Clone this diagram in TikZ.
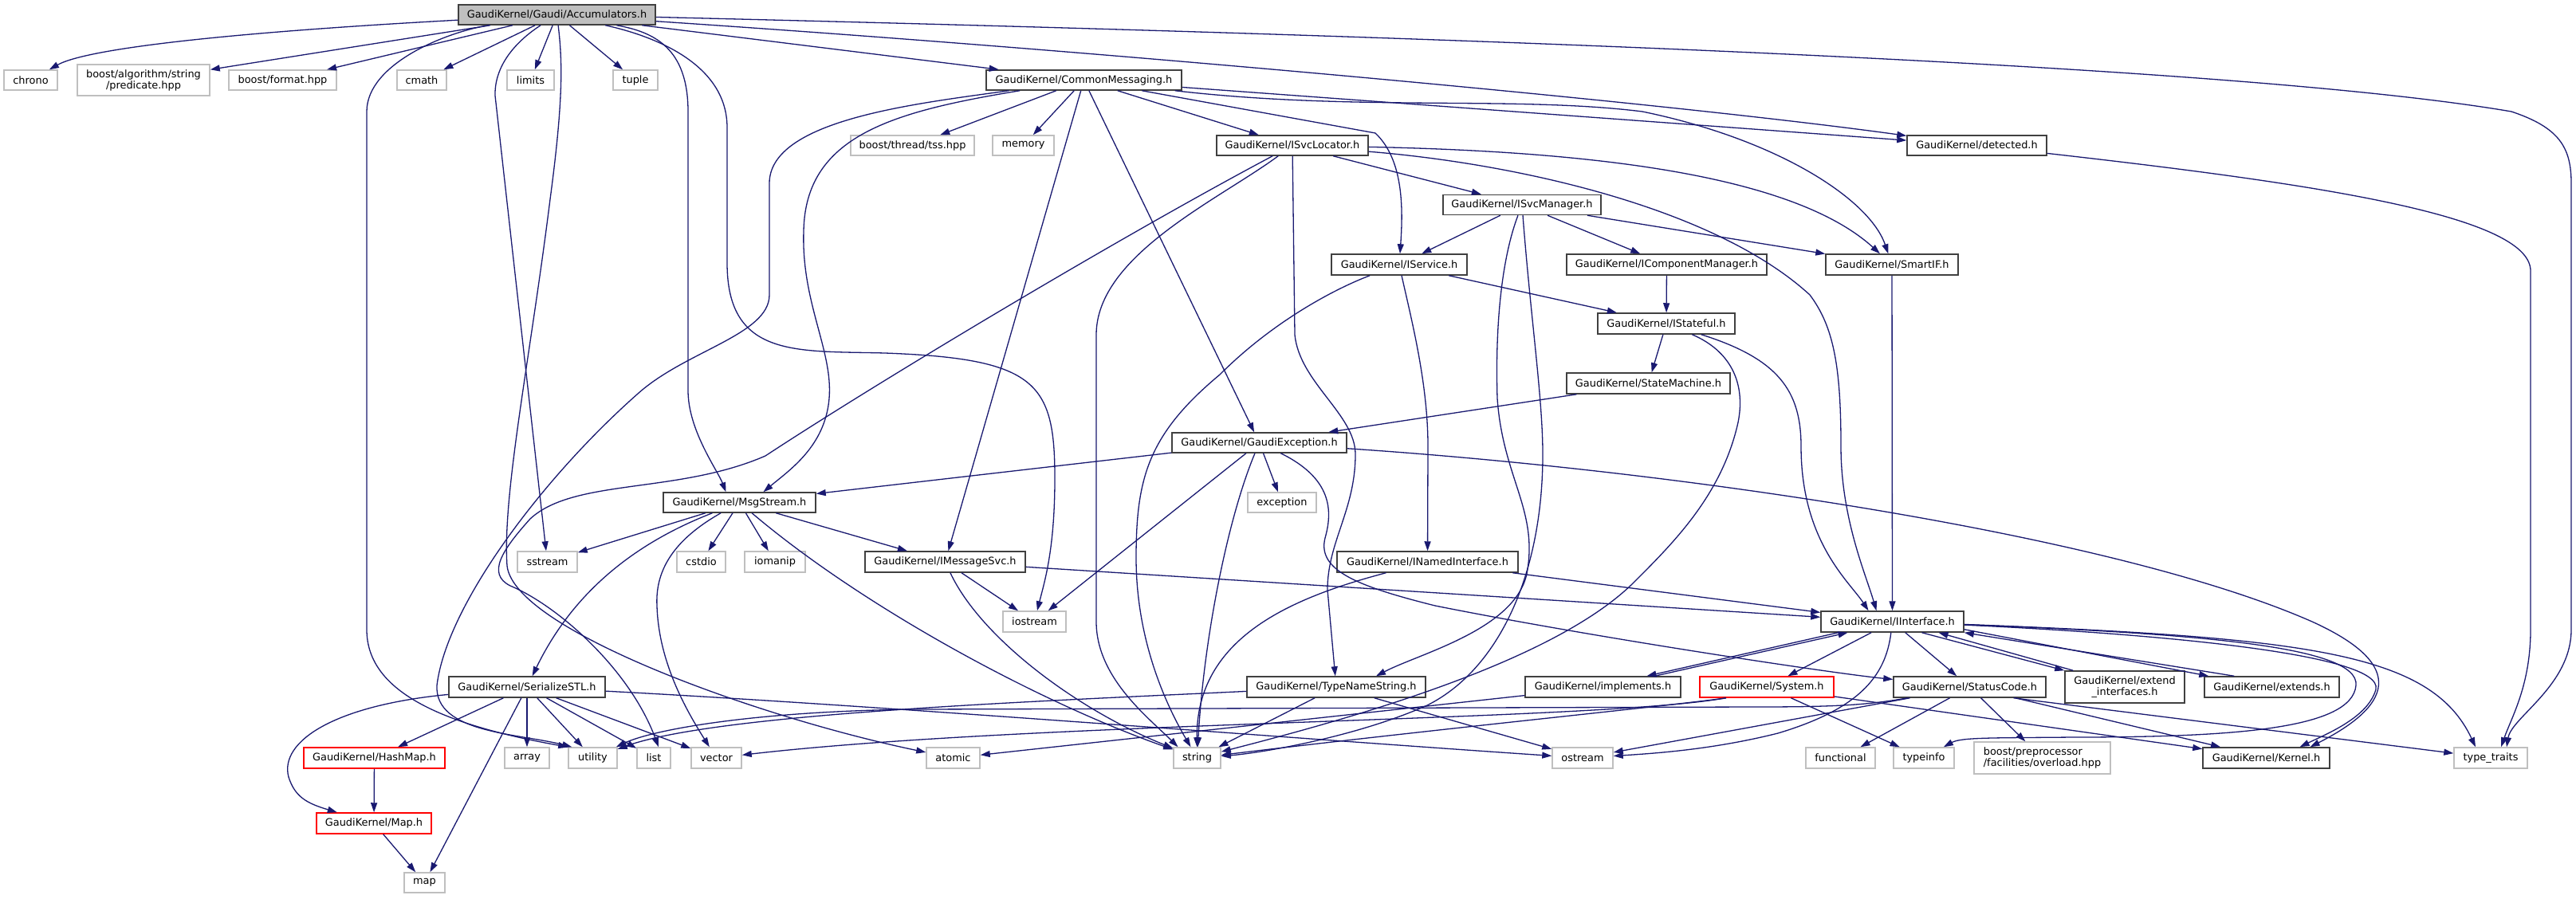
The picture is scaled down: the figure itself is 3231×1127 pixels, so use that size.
\documentclass[tikz,border=0pt]{standalone}
\usepackage{fontspec}
\setmainfont{DejaVu Sans}
\usetikzlibrary{arrows.meta}
\definecolor{edgec}{HTML}{191970}
\definecolor{extc}{HTML}{BFBFBF}
\definecolor{rootc}{HTML}{BFBFBF}
\definecolor{gkc}{HTML}{404040}
\newcommand\mknode[6]{\node[#1,minimum width=#4pt,minimum height=#5pt] (#2) at (#3) {#6};}
\tikzset{
  base/.style={rectangle, inner sep=0pt, line width=1.5pt, fill=white, font=\fontsize{12.9}{14}\selectfont, text=black},
  gk/.style={base, draw=gkc},
  ext/.style={base, draw=extc},
  redn/.style={base, draw=red},
  root/.style={base, draw=gkc, fill=rootc},
  edg/.style={draw=edgec, line width=1.3pt, -{Triangle[length=12pt,width=8pt]}},
}
\begin{document}
\begin{tikzpicture}[x=1pt,y=-1pt]
\fill[white] (0,0) rectangle (3231,1127);
\path[use as bounding box] (0,0) rectangle (3231,1127);
% nodes
\mknode{root}{acc}{698.5,18.5}{247}{25}{GaudiKernel/Gaudi/Accumulators.h}
\mknode{ext}{chrono}{38.5,100.5}{67}{25}{chrono}
\mknode{ext,align=center}{pred}{180,100.5}{166}{39}{boost/algorithm/string\\/predicate.hpp}
\mknode{ext}{fmt}{354.5,100.5}{135}{25}{boost/format.hpp}
\mknode{ext}{cmath}{529,100.5}{62}{25}{cmath}
\mknode{ext}{limits}{665.5,100.5}{59}{25}{limits}
\mknode{ext}{tuple}{797,100.5}{56}{25}{tuple}
\mknode{gk}{cm}{1359.5,100.5}{245}{25}{GaudiKernel/CommonMessaging.h}
\mknode{ext}{tss}{1144.5,182.5}{155}{25}{boost/thread/tss.hpp}
\mknode{ext}{memory}{1283.5,182.5}{77}{25}{memory}
\mknode{gk}{isl}{1621,182.5}{190}{25}{GaudiKernel/ISvcLocator.h}
\mknode{gk}{det}{2479.5,182.5}{175}{25}{GaudiKernel/detected.h}
\mknode{gk}{ism}{1909,257}{198}{25}{GaudiKernel/ISvcManager.h}
\mknode{gk}{isvc}{1755,332}{170}{26}{GaudiKernel/IService.h}
\mknode{gk}{icm}{2090.5,332}{251}{26}{GaudiKernel/IComponentManager.h}
\mknode{gk}{sif}{2373,332}{166}{26}{GaudiKernel/SmartIF.h}
\mknode{gk}{ist}{2090,406}{172}{26}{GaudiKernel/IStateful.h}
\mknode{gk}{sm}{2067.5,481}{205}{26}{GaudiKernel/StateMachine.h}
\mknode{gk}{gex}{1579.5,555.5}{219}{25}{GaudiKernel/GaudiException.h}
\mknode{ext}{exc}{1608,630.5}{86}{25}{exception}
\mknode{gk}{msg}{927.5,630.5}{191}{25}{GaudiKernel/MsgStream.h}
\mknode{ext}{sstream}{686.5,705}{75}{26}{sstream}
\mknode{ext}{cstdio}{879.5,705}{61}{26}{cstdio}
\mknode{ext}{iomanip}{972,705}{76}{26}{iomanip}
\mknode{gk}{ims}{1185.5,705}{201}{26}{GaudiKernel/IMessageSvc.h}
\mknode{gk}{ini}{1790.5,705}{227}{26}{GaudiKernel/INamedInterface.h}
\mknode{ext}{iostream}{1297.5,780}{79}{26}{iostream}
\mknode{gk}{ii}{2373.5,780}{179}{26}{GaudiKernel/IInterface.h}
\mknode{gk}{ser}{661,862}{196}{26}{GaudiKernel/SerializeSTL.h}
\mknode{gk}{tns}{1676,862}{224}{26}{GaudiKernel/TypeNameString.h}
\mknode{gk}{impl}{2010.5,862}{195}{26}{GaudiKernel/implements.h}
\mknode{redn}{sys}{2216,862}{168}{26}{GaudiKernel/System.h}
\mknode{gk}{sc}{2470.5,862}{191}{26}{GaudiKernel/StatusCode.h}
\mknode{gk,align=center}{extif}{2665,862}{150}{40}{GaudiKernel/extend\\\_interfaces.h}
\mknode{gk}{extends}{2849.5,862}{169}{26}{GaudiKernel/extends.h}
\mknode{redn}{hashmap}{469.5,951}{177}{26}{GaudiKernel/HashMap.h}
\mknode{ext}{array}{661,951}{56}{26}{array}
\mknode{ext}{utility}{743.5,951}{61}{26}{utility}
\mknode{ext}{list}{820,951}{42}{26}{list}
\mknode{ext}{vector}{898.5,951}{63}{26}{vector}
\mknode{ext}{atomic}{1195.5,951}{67}{26}{atomic}
\mknode{ext}{string}{1501.5,951}{59}{26}{string}
\mknode{ext}{ostream}{1985,951}{76}{26}{ostream}
\mknode{ext}{functional}{2308.5,951}{87}{26}{functional}
\mknode{ext}{typeinfo}{2413,951}{76}{26}{typeinfo}
\mknode{ext,align=left}{overload}{2561.5,951}{171}{40}{boost/preprocessor\\/facilities/overload.hpp}
\mknode{gk}{kernel}{2842.5,951}{159}{26}{GaudiKernel/Kernel.h}
\mknode{ext}{ttraits}{3124,951}{92}{26}{type\_traits}
\mknode{redn}{maph}{469,1033}{144}{26}{GaudiKernel/Map.h}
\mknode{ext}{map}{532.5,1107.5}{51}{25}{map}
% Accumulators.h
\draw[edg] (acc) .. controls (300,40) and (110,60) .. (chrono);
\draw[edg] (acc) -- (pred);
\draw[edg] (acc) -- (fmt);
\draw[edg] (acc) -- (cmath);
\draw[edg] (acc) -- (limits);
\draw[edg] (acc) -- (tuple);
\draw[edg] (acc) .. controls (560,40) and (460,80) .. (460,140) -- (460,790) .. controls (460,870) and (560,910) .. (utility.north west);
\draw[edg] (acc) .. controls (650,50) and (620,80) .. (621,120) -- (sstream);
\draw[edg] (acc) .. controls (706,80) and (706,130) .. (690,250) .. controls (665,450) and (630,620) .. (636,710) .. controls (645,790) and (950,900) .. (atomic);
\draw[edg] (acc) .. controls (820,45) and (912,80) .. (912,160) -- (912,330) .. controls (912,450) and (1000,440) .. (1110,443) .. controls (1300,450) and (1323,480) .. (1323,600) .. controls (1323,690) and (1310,730) .. (iostream);
\draw[edg] (acc) .. controls (820,40) and (863,60) .. (863,140) -- (863,490) .. controls (863,540) and (900,590) .. ([xshift=-17pt]msg.north);
\draw[edg] (acc) -- (cm);
\draw[edg] (acc) .. controls (1400,65) and (2100,130) .. (det);
\draw[edg] (acc) .. controls (1800,45) and (2800,80) .. (3150,140) .. controls (3210,160) and (3225,185) .. (3225,230) -- (3225,790) .. controls (3225,860) and (3150,900) .. ([xshift=20pt]ttraits.north);
% CommonMessaging.h
\draw[edg] (cm) .. controls (1150,130) and (965,150) .. (965,230) -- (965,370) .. controls (965,420) and (860,440) .. (800,494) .. controls (680,600) and (560,760) .. (548,860) .. controls (545,920) and (650,920) .. ([xshift=5pt]utility.north west);
\draw[edg] (cm) .. controls (1120,140) and (1010,170) .. (1008,290) .. controls (1005,380) and (1045,440) .. (1040,500) .. controls (1035,560) and (990,590) .. ([xshift=30pt]msg.north);
\draw[edg] (cm) -- (tss);
\draw[edg] (cm) -- (memory);
\draw[edg] (cm) -- (ims);
\draw[edg] (cm) -- (gex);
\draw[edg] (cm) -- (isl);
\draw[edg] (cm) -- (1725,167) .. controls (1760,200) and (1760,260) .. (isvc);
\draw[edg] (cm) .. controls (1700,140) and (1900,120) .. (2060,140) .. controls (2230,175) and (2345,250) .. (sif);
\draw[edg] (cm) -- (det);
% ISvcLocator.h
\draw[edg] (isl) .. controls (1400,300) and (1100,480) .. (960,572) .. controls (850,620) and (720,600) .. (665,651) .. controls (630,690) and (610,720) .. (640,735) .. controls (700,760) and (790,840) .. ([xshift=6pt]list.north);
\draw[edg] (isl) .. controls (1530,250) and (1375,320) .. (1375,420) -- (1375,780) .. controls (1375,850) and (1440,900) .. ([xshift=-24pt]string.north);
\draw[edg] (isl) -- (1624,420) .. controls (1630,480) and (1700,520) .. (1700,570) .. controls (1700,640) and (1665,680) .. (1665,740) -- (tns);
\draw[edg] (isl) -- (ism);
\draw[edg] (isl) .. controls (2000,190) and (2250,220) .. (sif);
\draw[edg] (isl) .. controls (1900,205) and (2150,260) .. (2270,370) .. controls (2300,410) and (2309,460) .. (2309,560) .. controls (2309,650) and (2340,720) .. ([xshift=-20pt]ii.north);
% ISvcManager.h
\draw[edg] (ism) -- (isvc);
\draw[edg] (ism) .. controls (1885,320) and (1875,400) .. (1878,500) .. controls (1885,600) and (1930,640) .. (1915,720) .. controls (1900,790) and (1780,820) .. ([xshift=50pt]tns.north);
\draw[edg] (ism) .. controls (1920,400) and (1935,500) .. (1935,570) .. controls (1935,720) and (1880,840) .. (1790,885) .. controls (1700,925) and (1580,945) .. (string);
\draw[edg] (ism) -- (icm);
\draw[edg] (ism) -- (sif);
% IService.h
\draw[edg] (isvc) .. controls (1680,360) and (1600,400) .. (1530,470) .. controls (1440,545) and (1425,600) .. (1425,700) .. controls (1425,800) and (1460,880) .. (string);
\draw[edg] (isvc) .. controls (1770,400) and (1791,480) .. (1791,560) -- (ini);
\draw[edg] (isvc) -- (ist);
% misc
\draw[edg] (icm) -- (ist);
\draw[edg] (sif) -- (ii);
\draw[edg] (det) .. controls (2900,230) and (3174,270) .. (3174,340) -- (3174,790) .. controls (3174,860) and (3150,900) .. ([xshift=13pt]ttraits.north);
% IStateful.h
\draw[edg] (ist) -- (sm);
\draw[edg] (ist) .. controls (2170,440) and (2190,480) .. (2180,530) .. controls (2160,620) and (2100,680) .. (2050,730) .. controls (1950,830) and (1700,900) .. (string);
\draw[edg] (ist) .. controls (2230,450) and (2259,490) .. (2259,560) .. controls (2259,680) and (2320,730) .. ([xshift=-30pt]ii.north);
\draw[edg] (sm) -- (gex);
% GaudiException.h
\draw[edg] (gex) -- (msg);
\draw[edg] (gex) -- (iostream);
\draw[edg] (gex) .. controls (1540,650) and (1510,800) .. (string);
\draw[edg] (gex) -- (exc);
\draw[edg] (gex) .. controls (1670,600) and (1672,640) .. (1662,675) .. controls (1652,715) and (1700,735) .. (1800,760) .. controls (2000,800) and (2300,845) .. (sc);
\draw[edg] (gex) .. controls (2100,590) and (2650,670) .. (2900,780) .. controls (3010,830) and (3010,880) .. ([xshift=55pt]kernel.north);
% MsgStream.h
\draw[edg] (msg) -- (sstream);
\draw[edg] (msg) .. controls (800,680) and (720,740) .. (ser);
\draw[edg] (msg) .. controls (840,680) and (822,720) .. (824,760) .. controls (826,830) and (860,890) .. (vector);
\draw[edg] (msg) -- (cstdio);
\draw[edg] (msg) -- (iomanip);
\draw[edg] (msg) .. controls (1080,760) and (1300,880) .. (string);
\draw[edg] (msg) -- (ims);
% IMessageSvc.h
\draw[edg] (ims) -- (iostream);
\draw[edg] (ims) .. controls (1230,800) and (1350,890) .. (string);
\draw[edg] (ims) -- (ii);
% INamedInterface.h
\draw[edg] (ini) -- (ii);
\draw[edg] (ini) .. controls (1620,750) and (1500,800) .. (string);
% IInterface.h
\draw[edg] ([xshift=-68pt]ii.south) -- ([xshift=55pt]impl.north);
\draw[edg] ([xshift=65pt]impl.north) -- ([xshift=-56pt]ii.south);
\draw[edg] (ii) -- (sys);
\draw[edg] (ii) .. controls (2365,850) and (2330,890) .. (2230,920) .. controls (2150,940) and (2080,945) .. (ostream);
\draw[edg] (ii) -- (sc);
\draw[edg] ([xshift=37pt]ii.south) -- (extif.north west);
\draw[edg] ([xshift=11pt]extif.north west) -- ([xshift=58pt]ii.south);
\draw[edg] ([yshift=4pt]ii.south east) -- ([xshift=6pt]extends.north west);
\draw[edg] ([xshift=38pt]extends.north west) -- (ii.south east);
\draw[edg] (ii) .. controls (2700,795) and (2990,820) .. (2980,865) .. controls (2970,900) and (2920,920) .. ([xshift=42pt]kernel.north);
\draw[edg] (ii) .. controls (2750,795) and (2960,810) .. (2955,860) .. controls (2950,915) and (2800,925) .. (2600,925) .. controls (2500,926) and (2460,925) .. (typeinfo);
\draw[edg] (ii) .. controls (2900,800) and (3050,820) .. ([xshift=-19pt]ttraits.north);
% implements.h
\draw[edg] (impl) -- (atomic);
% System.h
\draw[edg] ([xshift=-51pt]sys.south) .. controls (2100,885) and (1800,915) .. (string);
\draw[edg] ([xshift=-51pt]sys.south) .. controls (2000,905) and (1300,905) .. (vector);
\draw[edg] (sys) -- (typeinfo);
\draw[edg] (sys) -- (kernel);
% StatusCode.h
\draw[edg] (sc) .. controls (2340,885) and (2300,887) .. (2200,887) -- (1150,890) .. controls (950,892) and (820,915) .. (utility);
\draw[edg] (sc) -- (ostream);
\draw[edg] (sc) -- (functional);
\draw[edg] (sc) -- (overload);
\draw[edg] (sc) -- (kernel);
\draw[edg] ([xshift=55pt]sc.south) -- (ttraits);
% TypeNameString.h
\draw[edg] (tns) .. controls (1300,880) and (900,895) .. (utility);
\draw[edg] (tns) -- (string);
\draw[edg] (tns) -- (ostream);
% SerializeSTL.h
\draw[edg] (ser) -- (hashmap);
\draw[edg] (ser) -- (map);
\draw[edg] (ser) -- (array);
\draw[edg] (ser) -- (utility);
\draw[edg] (ser) -- (list);
\draw[edg] (ser) -- (vector);
\draw[edg] (ser) .. controls (1100,885) and (1600,925) .. (ostream);
\draw[edg] (ser) .. controls (420,885) and (350,930) .. (362,975) .. controls (370,1000) and (385,1008) .. (maph);
% HashMap / Map
\draw[edg] (hashmap) -- (maph);
\draw[edg] (maph) -- (map);
\end{tikzpicture}
\end{document}
